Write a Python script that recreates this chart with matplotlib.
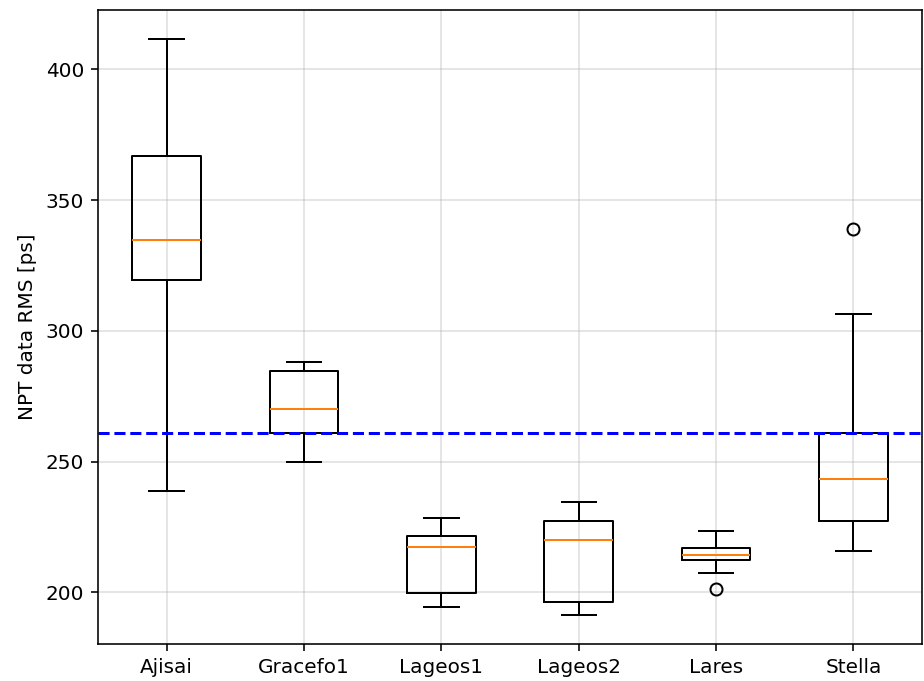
import matplotlib
matplotlib.use("Agg")
import matplotlib.pyplot as plt

# box statistics per satellite
satellites = ["Ajisai", "Gracefo1", "Lageos1", "Lageos2", "Lares", "Stella"]
whis_lo = [238.7, 249.9, 194.3, 191.2, 207.5, 215.8]
q1      = [319.4, 261.1, 199.6, 196.2, 212.4, 227.4]
median  = [334.6, 270.3, 217.2, 219.9, 214.4, 243.4]
q3      = [367.0, 284.5, 221.4, 227.3, 217.1, 260.8]
whis_hi = [411.7, 288.1, 228.3, 234.5, 223.4, 306.4]
fliers  = [[], [], [], [], [201.4], [338.8]]
reference_rms = 261.0

stats = []
for i, name in enumerate(satellites):
    stats.append({
        "label": name,
        "whislo": whis_lo[i], "q1": q1[i], "med": median[i],
        "q3": q3[i], "whishi": whis_hi[i], "fliers": fliers[i],
    })

fig = plt.figure(figsize=(924 / 144, 681 / 144), dpi=144)
ax = fig.add_axes([0.106, 0.054, 0.892, 0.9315])

ax.bxp(stats)
ax.axhline(reference_rms, color="blue", linestyle="--", linewidth=1.5)
ax.set_ylabel("NPT data RMS [ps]")
ax.grid(alpha=0.4)

fig.savefig("out.png", dpi=144)
